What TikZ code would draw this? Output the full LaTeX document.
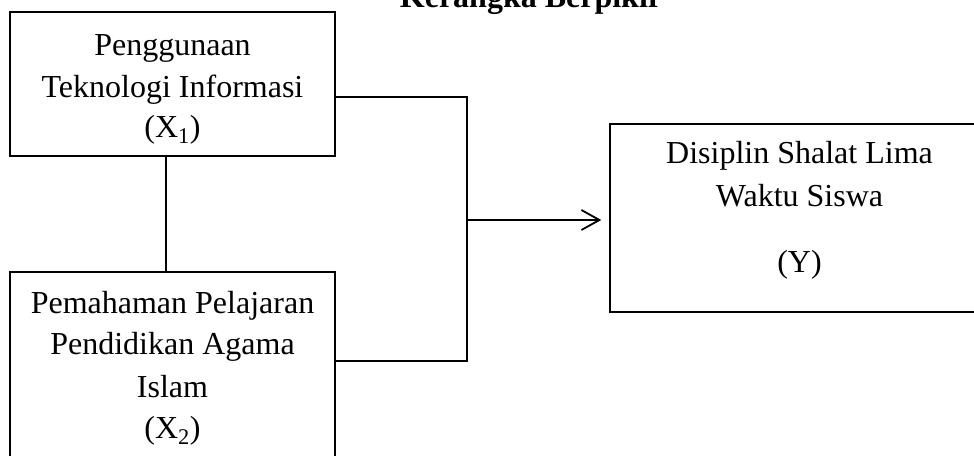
\documentclass[tikz,border=0pt]{standalone}
\usepackage{fontspec}
\setmainfont{Liberation Serif}
\usetikzlibrary{arrows.meta,calc}
\tikzset{
  boxshape/.style={draw=black, line width=1.5pt, inner sep=0pt},
  txt/.style={anchor=base, inner sep=0pt, font=\fontsize{32}{40}\selectfont},
  conn/.style={draw=black, line width=1.6pt},
}
\begin{document}
\begin{tikzpicture}[x=1pt,y=-1pt]
\useasboundingbox (0,0) rectangle (974,455);
\clip (0,0) rectangle (974,455);
% title
\node[anchor=base, inner sep=0pt, font=\bfseries\fontsize{32}{38}\selectfont] (title) at (531,7) {Kerangka Berpikir};
% boxes
\node[boxshape, minimum width=325pt, minimum height=144pt] (x1) at (172.5,84) {};
\node[boxshape, minimum width=325pt, minimum height=216pt] (x2) at (172.5,380) {};
\node[boxshape, minimum width=378pt, minimum height=188pt] (y) at (799,218) {};
% texts
\node[txt] (x1a) at (172.5,55) {Penggunaan};
\node[txt] (x1b) at (172.5,97) {Teknologi Informasi};
\node[txt] (x1c) at (172.5,137) {(X\textsubscript{1})};
\node[txt] (x2a) at (172.5,313) {Pemahaman Pelajaran};
\node[txt] (x2b) at (172.5,354) {Pendidikan Agama};
\node[txt] (x2c) at (172.5,397) {Islam};
\node[txt] (x2d) at (172.5,438) {(X\textsubscript{2})};
\node[txt] (ya) at (799.5,163) {Disiplin Shalat Lima};
\node[txt] (yb) at (799.5,206) {Waktu Siswa};
\node[txt] (yc) at (799.5,272) {(Y)};
% connectors
\coordinate (jt) at (467,97);
\coordinate (jb) at (467,361);
\coordinate (jm) at (467,220);
\draw[conn] ([xshift=-6.5pt]x1.south) -- ([xshift=-6.5pt]x1.south |- x2.north);
\draw[conn] (x1.east |- jt) -- (jt) -- (jb) -- (x2.east |- jb);
\draw[conn, -{Straight Barb[length=18pt, width=20pt, line width=1.8pt]}, shorten >=8pt] (jm) -- (y.west |- jm);
\end{tikzpicture}
\end{document}
